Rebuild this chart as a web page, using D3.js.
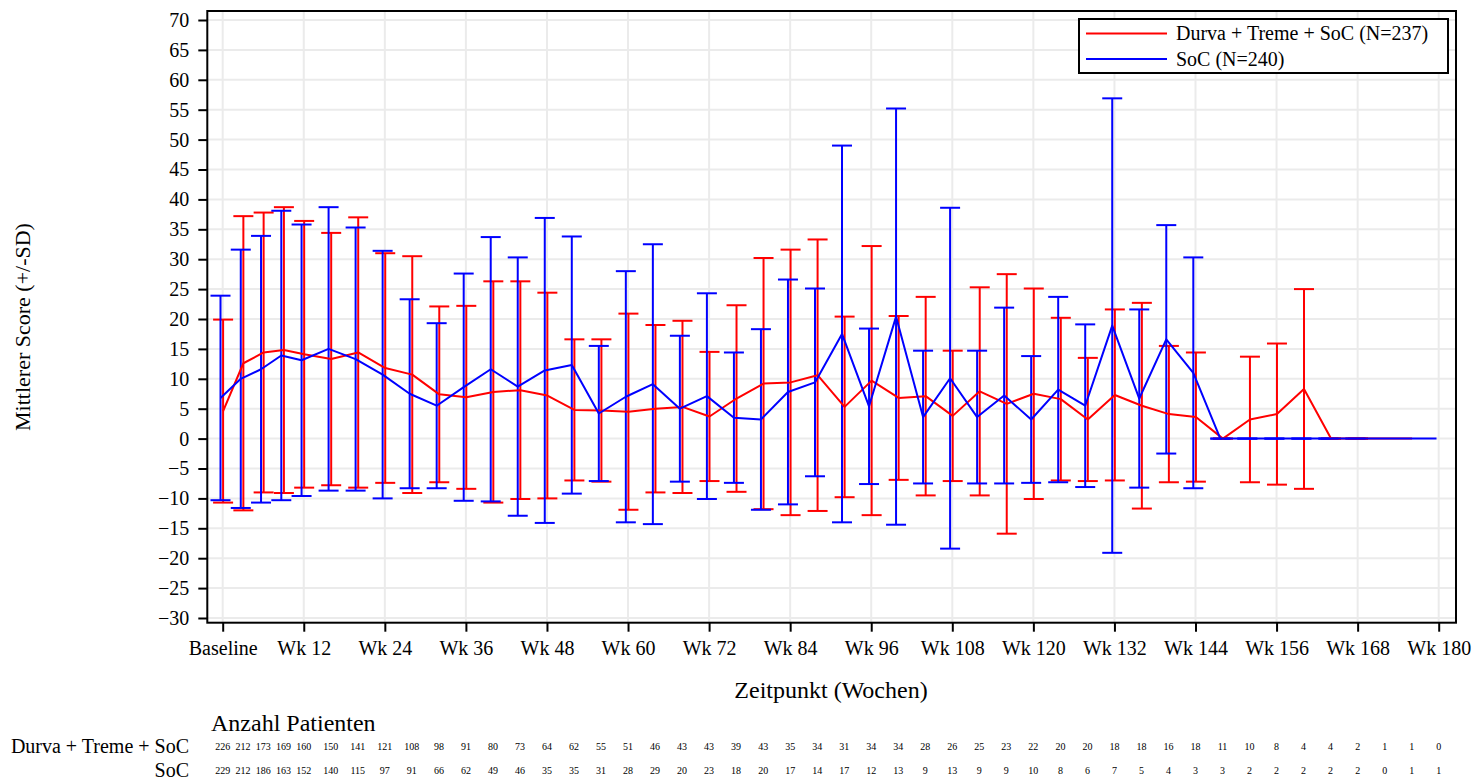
<!DOCTYPE html>
<html>
<head>
<meta charset="utf-8">
<script src="https://cdn.jsdelivr.net/npm/d3@7"></script>
<style>
  body { margin: 0; background: #fff; }
  text { font-family: "Liberation Serif", "Times New Roman", serif; fill: #000; }
</style>
</head>
<body>
<svg id="chart" width="1473" height="782"></svg>
<script>
// Visit weeks (Baseline = 0)
const weeks = [0, 3, 6, 9, 12, 16, 20, 24, 28, 32, 36, 40, 44, 48, 52, 56, 60, 64, 68, 72,
  76, 80, 84, 88, 92, 96, 100, 104, 108, 112, 116, 120, 124, 128, 132, 136, 140, 144,
  148, 152, 156, 160, 164, 168, 172, 176, 180];

// Durva + Treme + SoC: mean score and SD per visit (null SD = not estimable)
const durvaMean = [4.6, 12.6, 14.4, 14.8, 14.1, 13.3, 14.4, 11.8, 10.7, 7.4, 6.9, 7.8, 8.1, 7.2,
  4.8, 4.7, 4.5, 5.0, 5.3, 3.7, 6.7, 9.2, 9.4, 10.6, 5.3, 9.7, 6.8, 7.1, 3.8, 7.9, 5.8, 7.5,
  6.6, 3.2, 7.3, 5.5, 4.1, 3.6, 0, 3.2, 4.1, 8.3, 0, 0, 0, 0, null];
const durvaSD = [15.3, 24.6, 23.4, 23.9, 22.3, 21.1, 22.6, 19.2, 19.8, 14.7, 15.3, 18.5, 18.2, 17.2,
  11.8, 11.9, 16.4, 14.0, 14.4, 10.8, 15.6, 21.0, 22.2, 22.7, 15.1, 22.5, 13.7, 16.6, 10.9, 17.4,
  21.7, 17.6, 13.6, 10.3, 14.3, 17.2, 11.4, 10.8, 0, 10.5, 11.8, 16.7, 0, 0, null, null, null];

// SoC: mean score and SD per visit
const socMean = [6.8, 10.0, 11.6, 13.9, 13.1, 15.0, 13.3, 10.7, 7.5, 5.5, 8.6, 11.6, 8.7, 11.4,
  12.3, 4.2, 7.0, 9.1, 5.0, 7.1, 3.5, 3.2, 7.8, 9.4, 17.5, 5.4, 20.4, 3.6, 10.1, 3.6, 7.2, 3.2,
  8.2, 5.5, 18.9, 6.7, 16.6, 11.0, 0, 0, 0, 0, 0, 0, 0, 0, 0];
const socSD = [17.1, 21.6, 22.3, 24.2, 22.7, 23.7, 22.0, 20.7, 15.8, 13.8, 19.0, 22.1, 21.6, 25.5,
  21.5, 11.3, 21.0, 23.4, 12.2, 17.2, 10.9, 15.1, 18.8, 15.7, 31.5, 13.0, 34.8, 11.1, 28.5, 11.1,
  14.7, 10.6, 15.5, 13.6, 38.0, 14.9, 19.1, 19.3, 0, 0, 0, 0, 0, 0, null, null, null];

// Number of patients at each visit
const durvaN = [226, 212, 173, 169, 160, 150, 141, 121, 108, 98, 91, 80, 73, 64, 62, 55, 51, 46, 43,
  43, 39, 43, 35, 34, 31, 34, 34, 28, 26, 25, 23, 22, 20, 20, 18, 18, 16, 18, 11, 10, 8, 4, 4, 2, 1, 1, 0];
const socN = [229, 212, 186, 163, 152, 140, 115, 97, 91, 66, 62, 49, 46, 35, 35, 31, 28, 29, 20, 23,
  18, 20, 17, 14, 17, 12, 13, 9, 13, 9, 9, 10, 8, 6, 7, 5, 4, 3, 3, 2, 2, 2, 2, 2, 0, 1, 1];

const groupNames = ["Durva + Treme + SoC", "SoC"];
const legendLabels = ["Durva + Treme + SoC (N=237)", "SoC (N=240)"];
const xTickWeeks = [0, 12, 24, 36, 48, 60, 72, 84, 96, 108, 120, 132, 144, 156, 168, 180];
const yTickValues = [-30, -25, -20, -15, -10, -5, 0, 5, 10, 15, 20, 25, 30, 35, 40, 45, 50, 55, 60, 65, 70];

const svg = d3.select("#chart");
const frame = { left: 207.3, right: 1456, top: 11, bottom: 622.7 };

const x = d3.scaleLinear().domain([0, 180]).range([222.7, 1438.7]);
const y = d3.scaleLinear().domain([-30, 70]).range([618, 20]);

// grid
const grid = svg.append("g");
grid.selectAll("line.h").data(yTickValues).join("line")
  .attr("x1", frame.left).attr("x2", frame.right)
  .attr("y1", d => y(d)).attr("y2", d => y(d))
  .attr("stroke", "#ebebeb").attr("stroke-width", 2);
grid.selectAll("line.v").data(xTickWeeks).join("line")
  .attr("y1", frame.top).attr("y2", frame.bottom)
  .attr("x1", d => x(d)).attr("x2", d => x(d))
  .attr("stroke", "#ebebeb").attr("stroke-width", 2);

// series
const series = [
  { mean: durvaMean, sd: durvaSD, color: "#ff0000", dx: 0.4 },
  { mean: socMean, sd: socSD, color: "#0000ff", dx: -2.2 }
];
const capHalf = 10;

series.forEach(s => {
  const pts = weeks.map((w, i) => ({ w, m: s.mean[i], sd: s.sd[i] })).filter(p => p.m !== null);
  const bars = pts.filter(p => p.sd !== null);
  const g = svg.append("g");
  g.selectAll("line.bar").data(bars).join("line")
    .attr("x1", d => x(d.w) + s.dx).attr("x2", d => x(d.w) + s.dx)
    .attr("y1", d => y(d.m - d.sd)).attr("y2", d => y(d.m + d.sd))
    .attr("stroke", s.color).attr("stroke-width", 2);
  ["+", "-"].forEach(sign => {
    g.selectAll("line.cap" + (sign === "+" ? "u" : "l")).data(bars).join("line")
      .attr("x1", d => x(d.w) + s.dx - capHalf).attr("x2", d => x(d.w) + s.dx + capHalf)
      .attr("y1", d => y(sign === "+" ? d.m + d.sd : d.m - d.sd))
      .attr("y2", d => y(sign === "+" ? d.m + d.sd : d.m - d.sd))
      .attr("stroke", s.color).attr("stroke-width", 2);
  });
  s.pts = pts;
});

series.forEach(s => {
  const line = d3.line().x(d => x(d.w) + s.dx).y(d => y(d.m));
  svg.append("path").datum(s.pts)
    .attr("d", line).attr("fill", "none")
    .attr("stroke", s.color).attr("stroke-width", 2).attr("stroke-linejoin", "round");
});

// frame
svg.append("rect")
  .attr("x", frame.left).attr("y", frame.top)
  .attr("width", frame.right - frame.left).attr("height", frame.bottom - frame.top)
  .attr("fill", "none").attr("stroke", "#000").attr("stroke-width", 2);

// axes
const yAxis = svg.append("g").attr("transform", `translate(${frame.left},0)`)
  .call(d3.axisLeft(y).tickValues(yTickValues).tickSize(9).tickPadding(9).tickSizeOuter(0));
yAxis.select(".domain").remove();
yAxis.selectAll(".tick line").attr("stroke", "#000").attr("stroke-width", 2);
yAxis.selectAll(".tick text").style("font-size", "20px")
  .style("font-family", "'Liberation Serif', serif").attr("fill", "#000");

const xAxis = svg.append("g").attr("transform", `translate(0,${frame.bottom})`)
  .call(d3.axisBottom(x).tickValues(xTickWeeks)
    .tickFormat(d => d === 0 ? "Baseline" : "Wk " + d)
    .tickSize(9).tickPadding(9).tickSizeOuter(0));
xAxis.select(".domain").remove();
xAxis.selectAll(".tick line").attr("stroke", "#000").attr("stroke-width", 2);
xAxis.selectAll(".tick text").style("font-size", "20px")
  .style("font-family", "'Liberation Serif', serif").attr("fill", "#000");

// axis titles
svg.append("text")
  .attr("transform", "translate(30,327) rotate(-90)")
  .attr("text-anchor", "middle").style("font-size", "22px")
  .text("Mittlerer Score (+/-SD)");
svg.append("text")
  .attr("x", 831).attr("y", 698)
  .attr("text-anchor", "middle").style("font-size", "24px")
  .text("Zeitpunkt (Wochen)");

// legend
const legend = svg.append("g");
legend.append("rect")
  .attr("x", 1079).attr("y", 19).attr("width", 369).attr("height", 54)
  .attr("fill", "#fff").attr("stroke", "#000").attr("stroke-width", 2);
series.forEach((s, i) => {
  const ly = 33.5 + i * 25.5;
  legend.append("line")
    .attr("x1", 1086).attr("x2", 1167).attr("y1", ly).attr("y2", ly)
    .attr("stroke", s.color).attr("stroke-width", 2);
  legend.append("text")
    .attr("x", 1176).attr("y", ly + 6.5).style("font-size", "20px")
    .text(legendLabels[i]);
});

// patients-at-risk table
svg.append("text").attr("x", 211).attr("y", 731).style("font-size", "24px").text("Anzahl Patienten");
const rows = [durvaN, socN];
const rowY = [753, 777];
rows.forEach((vals, r) => {
  svg.append("text").attr("x", 189).attr("y", rowY[r])
    .attr("text-anchor", "end").style("font-size", "20px").text(groupNames[r]);
  svg.append("g").selectAll("text").data(vals).join("text")
    .attr("x", (d, i) => x(weeks[i]))
    .attr("y", rowY[r] - 3)
    .attr("text-anchor", "middle").style("font-size", "10px")
    .text(d => d);
});
</script>
</body>
</html>
